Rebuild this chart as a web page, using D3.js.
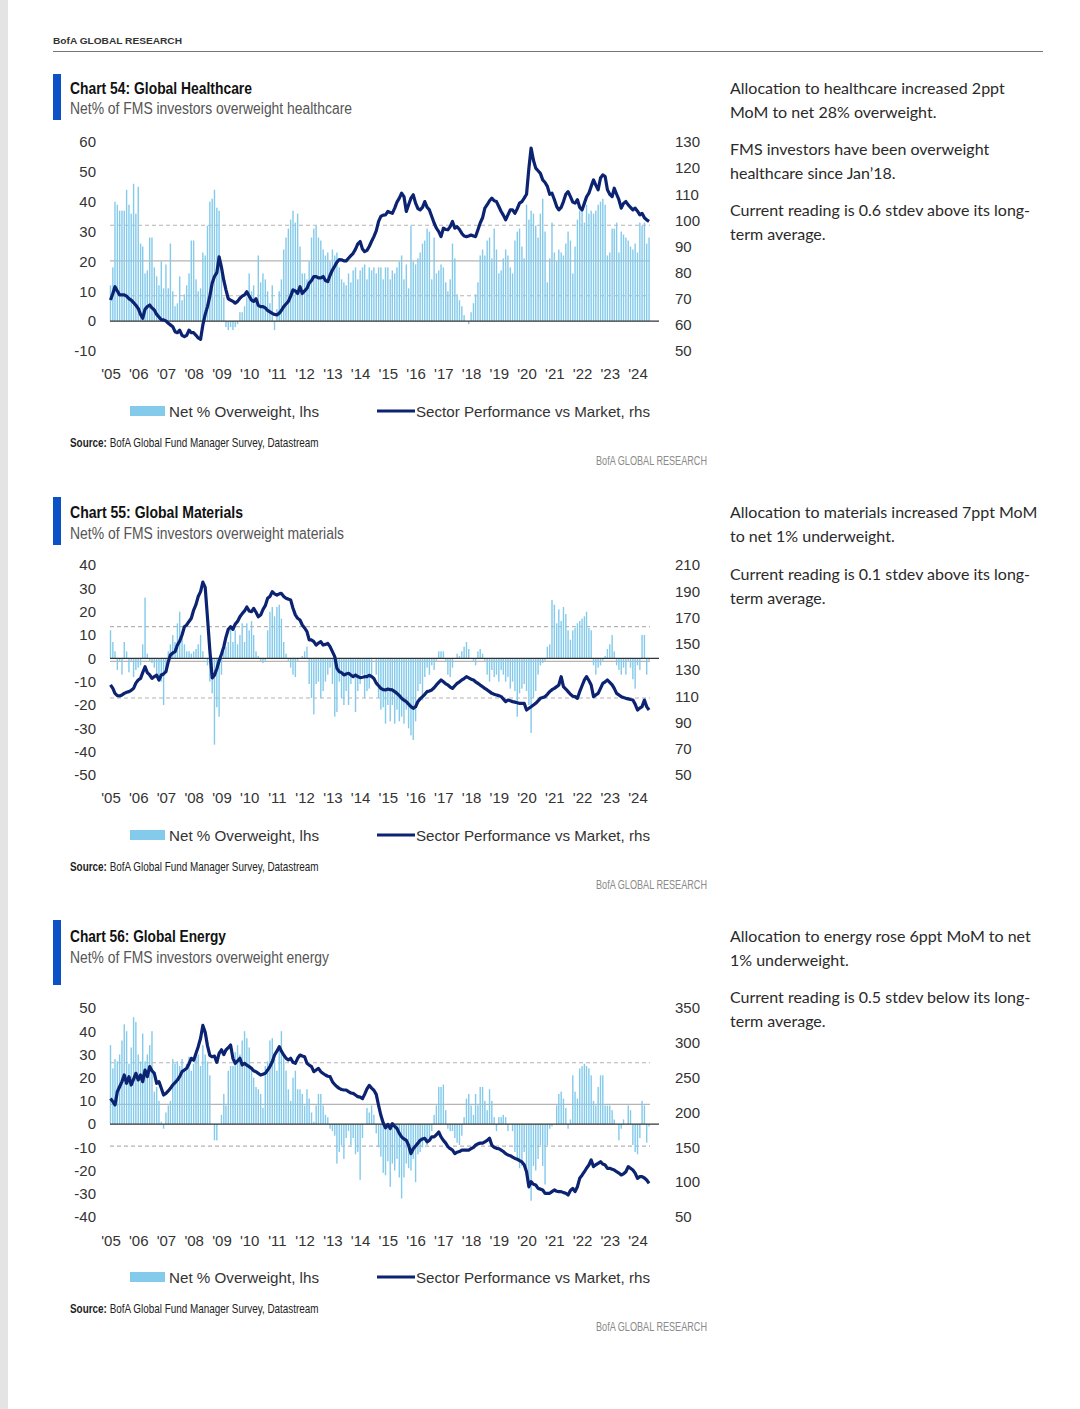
<!DOCTYPE html>
<html>
<head>
<meta charset="utf-8">
<script src="https://cdn.jsdelivr.net/npm/d3@7"></script>
<style>
  body { margin: 0; background: #fff; }
</style>
</head>
<body>
<div id="page"></div>
<script>
// ---- data (monthly, Jan 2005 - Jun 2024) ----
var years = ["'05","'06","'07","'08","'09","'10","'11","'12","'13","'14","'15","'16","'17","'18","'19","'20","'21","'22","'23","'24"];

var hcBars = [
  12, 18, 40, 39, 37, 37, 37, 44, 39, 36, 46, 36,
  45, 26, 25, 16, 17, 28, 28, 18, 15, 12, 20, 11,
  19, 11, 26, 10, 5, 6, 15, 7, 9, 12, 16, 27,
  27, 14, 10, 11, 23, 22, 32, 40, 41, 44, 38, 37,
  20, 8, -2, -3, -2, -3, -2, -1, 3, 3, 5, 8,
  16, 10, 12, 7, 22, 13, 16, 14, 10, 6, 12, -3,
  4, 10, 14, 24, 28, 31, 34, 37, 33, 36, 25, 16,
  16, 14, 20, 28, 31, 32, 28, 27, 24, 22, 23, 20,
  24, 22, 23, 18, 14, 13, 12, 16, 13, 17, 18, 14,
  17, 18, 19, 14, 18, 17, 18, 16, 18, 18, 14, 18,
  18, 14, 17, 16, 18, 20, 22, 14, 19, 11, 32, 20,
  19, 21, 23, 26, 27, 31, 30, 14, 28, 16, 17, 19,
  18, 13, 10, 14, 26, 21, 9, 7, 5, 2, 0, -1,
  3, 6, 9, 13, 22, 24, 22, 27, 28, 21, 31, 24,
  16, 17, 21, 24, 22, 18, 16, 27, 30, 31, 25, 21,
  39, 34, 37, 36, 32, 28, 36, 41, 30, 13, 21, 33,
  23, 20, 24, 23, 22, 26, 30, 27, 16, 25, 34, 37,
  37, 33, 39, 36, 37, 36, 37, 39, 40, 41, 39, 22,
  23, 31, 31, 33, 23, 30, 29, 28, 27, 25, 24, 26,
  23, 33, 32, 33, 26, 28
];
var hcLine = [
  69.5, 72, 74.6, 73, 71.5, 71.5, 71.5, 71, 70, 69.5, 68.5, 67.5,
  66.3, 64, 62.5, 66, 67, 67.6, 66.5, 65.7, 64, 63, 62, 61.9,
  61.5, 60.6, 60, 59.3, 57.4, 57, 58, 56, 55.5, 56, 58, 57,
  57, 56, 55, 54.5, 60, 64, 67, 71, 76, 78.5, 80, 86,
  82, 77, 73.4, 70, 69.5, 69, 68.3, 69, 70.2, 71, 71.5, 72.7,
  71, 69.5, 69, 70, 67.5, 67, 67, 66.5, 65.5, 65, 64.4, 64,
  63.8, 64.5, 65.5, 67, 68, 69, 71, 73.4, 73, 72, 74.6, 72,
  73, 74, 76, 77, 78.5, 78.5, 78, 78, 78.5, 77, 76.6, 79,
  81, 82.5, 84, 85, 84.9, 84.5, 84.5, 85.5, 86.5, 87.4, 89, 91,
  91.9, 89, 88, 88.5, 90, 92, 93.8, 96, 99.6, 101.5, 102, 102.1,
  103.4, 103, 102.7, 104.7, 107, 108.5, 110.4, 109.1, 103.4, 106, 108.5, 109.8,
  106.6, 104.5, 104, 105, 107.2, 105, 104, 101.5, 99, 97, 95.7, 93.8,
  97, 96.5, 96.4, 97.6, 99.6, 97, 97.6, 96.5, 95, 94, 93.8, 94,
  94.4, 94, 93.8, 96.4, 99, 101, 104.7, 106, 107.5, 108.5, 107.5, 107.2,
  105.3, 103.4, 102, 100.2, 102.1, 104, 104, 102.7, 104.5, 106.6, 107.2, 108.5,
  110, 120, 127.7, 123, 120, 119, 118, 115.5, 114.5, 113, 110, 110.4,
  108, 105.3, 104, 105, 107.2, 110, 111, 109.1, 107, 106.6, 107.9, 105,
  104, 106.6, 109, 110.4, 113, 115.5, 113.5, 111.7, 116.2, 117.4, 116.8, 111.7,
  110, 109.1, 112.3, 110, 107.9, 104.7, 106.5, 107.2, 105.9, 105, 104, 104.7,
  103.5, 102.1, 102.7, 101, 100.2, 99.6
];

var matBars = [
  12, 7, 3, -5, -1, -7, 7, 3, -6, -1, -8, -5,
  -4, -3, 6, 26, 2, -1, -2, -4, -7, -8, -10, -20,
  -4, 3, 6, 10, 7, 15, 20, 10, 6, 3, 3, 2,
  3, 4, 6, 10, 3, 0, -3, -10, -15, -37, -21, -25,
  -7, 3, 5, 7, 14, 7, 12, 6, 10, 15, 7, 15,
  12, 16, 10, 3, 1, -1, -2, -1, 12, 20, 22, 18,
  22, 23, 17, 7, 2, -1, -4, -7, -8, -1, 0, 1,
  3, 5, -11, -17, -24, -11, -10, -17, -14, -10, -7, -4,
  -11, -25, -23, -10, -17, -20, -14, -20, -11, -7, -23, -14,
  -11, -7, -17, -14, -13, -8, 0, -7, -17, -22, -21, -28,
  -20, -27, -20, -28, -22, -27, -25, -28, -22, -30, -33, -35,
  -27, -14, -11, -18, -8, -4, -7, -3, -5, -1, 3, 3,
  3, -1, -7, -8, -4, 0, 2, 1, 3, 5, 7, 4,
  0, -1, -3, 3, 4, 2, -1, -7, -10, -5, -8, -7,
  -10, -5, -7, -10, -8, -13, -10, -14, -25, -15, -13, -11,
  -14, -20, -32, -17, -14, -7, -3, -2, -1, 5, 6, 25,
  23, 15, 21, 16, 22, 19, 12, 8, 12, 13, 15, 16,
  17, 18, 20, 13, 12, -3, -7, -4, -3, -1, 1, 4,
  6, 10, 3, -3, -5, -7, -4, -7, -1, -4, -9, -13,
  -3, -5, 10, 10, -7, -1
];
var matLine = [
  118.6, 116, 112.2, 110.5, 110.2, 111, 112.2, 113, 113.5, 114.5, 116, 120,
  122.4, 123.6, 128, 132.5, 128, 126.2, 123.6, 125, 126, 122.4, 126.2, 127,
  128.7, 136.3, 141.4, 143, 144, 149, 152, 156.7, 163, 164.3, 167, 169.4,
  175.7, 180, 186, 189.7, 197, 193, 170, 145, 124, 126, 131, 137,
  142, 147.8, 155, 161, 163, 161, 165, 167, 170.6, 173, 175, 178,
  175, 174.4, 177, 174, 170.6, 171.9, 176, 179, 184.6, 186, 189.7, 188,
  187.1, 188, 188.4, 186, 184.6, 184, 183.3, 177, 172, 169.4, 168.1, 164.3,
  162, 159.2, 153, 152.9, 151.6, 149, 150.5, 151.6, 149, 149.5, 150.3, 147.8,
  144, 140.2, 131.3, 128.7, 128, 126.2, 127, 127.5, 126.2, 125, 126.2, 125,
  124.2, 124.5, 124.9, 124.9, 126, 125, 123.6, 120, 118, 116, 115, 114.8,
  115.5, 115, 114.8, 113.5, 112.2, 110.5, 108.4, 107, 105.9, 104, 102.1, 100.8,
  102, 106, 108, 109.7, 111.5, 113.5, 114, 114.8, 116.5, 118.6, 120.5, 122.4,
  121, 119.5, 118.6, 117, 116, 118, 119.8, 121, 122.4, 123.5, 124.9, 124,
  123, 122.4, 121, 119.8, 118.5, 117.3, 116, 114.8, 113.5, 112.2, 111.5, 111,
  110.5, 109.7, 108, 105.9, 107.1, 106.5, 105.9, 105.5, 105, 104.6, 104.6, 104.6,
  99.5, 100.8, 102, 103.3, 104.6, 106.5, 108.4, 109, 109.7, 111.5, 113.5, 115,
  116, 117.3, 118.6, 124.9, 117.3, 115.5, 113.5, 111.5, 110, 109.7, 108.4, 113.5,
  118, 122.4, 124.9, 122, 118.6, 109.7, 111, 112.2, 116, 119.8, 121, 122.4,
  120.5, 118.6, 116, 112.2, 111, 109.7, 109, 108.4, 108, 107.5, 107.1, 104,
  99.5, 101, 102.1, 107.1, 102.1, 99.5
];

var enBars = [
  34, 24, 28, 27, 30, 36, 43, 40, 26, 33, 46, 44,
  30, 27, 39, 27, 30, 34, 40, 14, 16, 10, 1, -2,
  5, 8, 10, 28, 26, 27, 25, 28, 23, 26, 29, 23,
  26, 30, 30, 25, 34, 30, 27, 21, 0, -7, -7, 0,
  4, 13, 8, 23, 25, 25, 31, 34, 30, 36, 40, 37,
  33, 24, 20, 16, 15, 13, 7, 25, 27, 36, 37, 28,
  23, 33, 40, 30, 23, 15, 10, 20, 23, 15, 15, 13,
  8, 15, 11, 5, 1, 8, 13, 13, 8, 4, 3, -2,
  -3, -5, -17, -12, -9, -15, -6, -3, -9, -6, -13, -12,
  -24, -6, 0, 7, 5, 8, 4, -4, -10, -14, -21, -22,
  -16, -27, -17, -20, -15, -23, -32, -23, -17, -19, -20, -15,
  -25, -13, -12, -10, -6, -9, -6, -3, 4, 8, 16, 16,
  17, 6, -2, -3, -3, -6, -8, -9, -5, 3, 11, 13,
  8, 4, 13, 8, 16, 16, 10, 6, 15, 10, 3, -3,
  3, 3, 4, 3, -3, 0, -3, -12, -16, -19, -18, -12,
  -22, -28, -33, -18, -20, -15, -9, -18, -26, -9, -2, -1,
  0, 8, 13, 14, 11, 7, -2, 2, 21, 14, 11, 24,
  25, 26, 25, 24, 21, 10, 8, 16, 21, 21, 8, 8,
  8, 6, 2, 0, -7, -2, 2, 0, 8, 6, -9, -12,
  -13, -6, 10, 8, -8, -1
];
var enLine = [
  220, 215.6, 210.8, 229.9, 237, 244.3, 253.8, 241.9, 251.4, 239.5, 248, 256.2,
  246.7, 253.8, 244.3, 261, 251.4, 265.8, 260, 256.2, 241.9, 244.3, 234.7, 225.1,
  227.5, 231, 234.7, 239.5, 243, 246.7, 251.4, 258.6, 261, 263.4, 270, 277.8,
  275, 285, 294.5, 306.5, 325, 315, 296, 282, 280, 281, 272, 285,
  290, 283, 289.7, 293, 296.9, 277.8, 270.6, 274, 277.8, 268.2, 270.6, 268,
  265.8, 263.4, 260, 258.6, 256.2, 253.8, 255, 256.2, 261, 266, 272.9, 282.5,
  288, 294.5, 288, 282.5, 278, 275.4, 277.8, 272, 270.6, 277.8, 282.5, 281,
  280.1, 270.6, 268, 265.8, 258.6, 261, 263.4, 258.6, 256, 253.8, 252, 251.4,
  244.3, 240, 237.1, 234.7, 233, 232.3, 232.3, 229.9, 228, 227.5, 225.1, 222.7,
  222, 220, 226, 234, 239, 235, 232, 226, 210, 196, 185, 178,
  183, 177, 184, 180, 177, 170, 165, 162, 160, 153, 141, 148,
  152, 156, 160, 162, 163, 158, 160, 165, 165, 168, 172, 165,
  160, 156, 151, 148, 146, 141, 143, 144, 146, 146, 146, 146,
  148, 150, 153, 155, 156, 156, 158, 160, 163, 153, 150, 148.6,
  148, 146, 144, 141, 139, 138, 136, 134, 133, 131, 129, 125,
  115, 93.5, 100.7, 97, 95.9, 91.1, 90, 88.8, 84, 84, 84, 86.4,
  88.8, 87, 86.4, 86.4, 85, 84, 81.6, 88, 91.1, 86.4, 93.5, 105.5,
  110, 115, 120, 124.6, 131.8, 122.3, 125, 127, 129.4, 126, 124.6, 119.9,
  119.9, 118.5, 117.5, 115, 113, 110.3, 112, 115, 122.3, 120, 117.5, 113,
  105.5, 107.9, 107.9, 106, 103.1, 98.3
];

// axis ticks and reference lines (lower band, average, upper band)
var hcLeftTicks = [-10, 0, 10, 20, 30, 40, 50, 60];
var hcRightTicks = [50, 60, 70, 80, 90, 100, 110, 120, 130];
var hcRefs = [8.5, 20.2, 32.1];
var matLeftTicks = [-50, -40, -30, -20, -10, 0, 10, 20, 30, 40];
var matRightTicks = [50, 70, 90, 110, 130, 150, 170, 190, 210];
var matRefs = [-17, -1.3, 13.6];
var enLeftTicks = [-40, -30, -20, -10, 0, 10, 20, 30, 40, 50];
var enRightTicks = [50, 100, 150, 200, 250, 300, 350];
var enRefs = [-9.5, 8.5, 26.4];

var hcNotes = [["Allocation to healthcare increased 2ppt", "MoM to net 28% overweight."],
               ["FMS investors have been overweight", "healthcare since Jan\u201918."],
               ["Current reading is 0.6 stdev above its long-", "term average."]];
var matNotes = [["Allocation to materials increased 7ppt MoM", "to net 1% underweight."],
                ["Current reading is 0.1 stdev above its long-", "term average."]];
var enNotes = [["Allocation to energy rose 6ppt MoM to net", "1% underweight."],
               ["Current reading is 0.5 stdev below its long-", "term average."]];

// ---- layout ----
var W = 1080, H = 1409;
var sansFont = "'Liberation Sans', Arial, sans-serif";
var noteFont = "Lato, 'Open Sans', sans-serif";

var charts = [
  {title: "Chart 54: Global Healthcare", titleW: 182, sub: "Net% of FMS investors overweight healthcare", subW: 282,
   bars: hcBars, line: hcLine, lt: hcLeftTicks, rt: hcRightTicks, refs: hcRefs, notes: hcNotes,
   top: 142, bottom: 351, titleY: 94, subY: 114, mark: [74, 120], xLabY: 379, legY: 411, srcY: 447, wmY: 465,
   noteY: [94, 155, 216]},
  {title: "Chart 55: Global Materials", titleW: 173, sub: "Net% of FMS investors overweight materials", subW: 274,
   bars: matBars, line: matLine, lt: matLeftTicks, rt: matRightTicks, refs: matRefs, notes: matNotes,
   top: 565, bottom: 775, titleY: 518, subY: 539, mark: [497, 545], xLabY: 803, legY: 835, srcY: 871, wmY: 889,
   noteY: [518, 580]},
  {title: "Chart 56: Global Energy", titleW: 156, sub: "Net% of FMS investors overweight energy", subW: 259,
   bars: enBars, line: enLine, lt: enLeftTicks, rt: enRightTicks, refs: enRefs, notes: enNotes,
   top: 1008, bottom: 1217, titleY: 942, subY: 963, mark: [920, 985], xLabY: 1246, legY: 1277, srcY: 1313, wmY: 1331,
   noteY: [942, 1003]}
];

var svg = d3.select("#page").append("svg")
  .attr("width", W)
  .attr("height", H)
  .style("font-family", sansFont);

svg.append("rect").attr("width", W).attr("height", H).attr("fill", "#fff");
svg.append("rect").attr("x", 0).attr("y", 0).attr("width", 8).attr("height", H).attr("fill", "#e4e4e4");

// page header
svg.append("text").attr("x", 53).attr("y", 44)
  .attr("font-size", 9.5).attr("font-weight", "bold").attr("fill", "#333")
  .attr("textLength", 129).attr("lengthAdjust", "spacingAndGlyphs")
  .text("BofA GLOBAL RESEARCH");
svg.append("line").attr("x1", 53).attr("x2", 1043).attr("y1", 51.5).attr("y2", 51.5)
  .attr("stroke", "#777").attr("stroke-width", 1);

var x = d3.scaleTime()
  .domain([new Date(2005, 0, 1), new Date(2024, 0, 1)])
  .range([110.5, 637.5]);
var yearDates = years.map(function(d, i) { return new Date(2005 + i, 0, 1); });

var barColor = "#84caeb", lineColor = "#0c2372";

function fit(t, w) {
  return t.attr("textLength", w).attr("lengthAdjust", "spacingAndGlyphs");
}

charts.forEach(function(c) {
  var g = svg.append("g");
  var yL = d3.scaleLinear().domain(d3.extent(c.lt)).range([c.bottom, c.top]);
  var yR = d3.scaleLinear().domain(d3.extent(c.rt)).range([c.bottom, c.top]);
  var dates = c.bars.map(function(d, i) { return new Date(2005, i, 1); });

  // blue marker + titles
  g.append("rect").attr("x", 53).attr("y", c.mark[0]).attr("width", 8)
    .attr("height", c.mark[1] - c.mark[0]).attr("fill", "#0c52c6");
  fit(g.append("text").attr("x", 70).attr("y", c.titleY)
    .attr("font-size", 17).attr("font-weight", "bold").attr("fill", "#111")
    .text(c.title), c.titleW);
  fit(g.append("text").attr("x", 70).attr("y", c.subY)
    .attr("font-size", 16).attr("fill", "#555")
    .text(c.sub), c.subW);

  // notes on the right
  c.notes.forEach(function(p, i) {
    p.forEach(function(line, j) {
      g.append("text").attr("x", 730).attr("y", c.noteY[i] + j * 23.5)
        .style("font-family", noteFont)
        .attr("font-size", 16).attr("fill", "#2a2a2a")
        .text(line);
    });
  });

  // reference lines: band edges dashed, average solid
  c.refs.forEach(function(v, i) {
    g.append("line").attr("x1", 110).attr("x2", 650)
      .attr("y1", yL(v)).attr("y2", yL(v))
      .attr("stroke", "#b4b4b4").attr("stroke-width", 1.1)
      .attr("stroke-dasharray", i === 1 ? null : "4,3");
  });

  // bars
  g.selectAll(".bar").data(c.bars).enter().append("rect")
    .attr("x", function(d, i) { return x(dates[i]) - 0.7; })
    .attr("width", 1.4)
    .attr("y", function(d) { return Math.min(yL(d), yL(0)); })
    .attr("height", function(d) { return Math.abs(yL(d) - yL(0)); })
    .attr("fill", barColor);

  // zero line
  g.append("line").attr("x1", 110).attr("x2", 659)
    .attr("y1", yL(0)).attr("y2", yL(0))
    .attr("stroke", "#333").attr("stroke-width", 1.4);

  // performance line
  g.append("path").datum(c.line)
    .attr("fill", "none").attr("stroke", lineColor).attr("stroke-width", 3.2)
    .attr("stroke-linejoin", "round")
    .attr("d", d3.line()
      .x(function(d, i) { return x(dates[i]); })
      .y(function(d) { return yR(d); }));

  // axes
  var plain = function(d) { return String(d); };
  var la = g.append("g").attr("transform", "translate(96,0)")
    .call(d3.axisLeft(yL).tickValues(c.lt).tickSize(0).tickPadding(0).tickFormat(plain));
  var ra = g.append("g").attr("transform", "translate(675,0)")
    .call(d3.axisRight(yR).tickValues(c.rt).tickSize(0).tickPadding(0).tickFormat(plain));
  var xa = g.append("g").attr("transform", "translate(0," + c.xLabY + ")")
    .call(d3.axisBottom(x).tickValues(yearDates).tickSize(0).tickPadding(0)
      .tickFormat(function(d, i) { return years[i]; }));
  xa.selectAll("text").attr("dy", null).attr("y", 0);
  [la, ra, xa].forEach(function(a) {
    a.attr("font-family", null);
    a.select(".domain").remove();
    a.selectAll("text").attr("font-size", 15).attr("fill", "#333");
  });

  // legend
  g.append("rect").attr("x", 130).attr("y", c.legY - 5).attr("width", 35).attr("height", 10)
    .attr("fill", barColor);
  fit(g.append("text").attr("x", 169).attr("y", c.legY + 5.5)
    .attr("font-size", 15).attr("fill", "#333").text("Net % Overweight, lhs"), 150);
  g.append("line").attr("x1", 377).attr("x2", 415).attr("y1", c.legY).attr("y2", c.legY)
    .attr("stroke", lineColor).attr("stroke-width", 3);
  fit(g.append("text").attr("x", 416).attr("y", c.legY + 5.5)
    .attr("font-size", 15).attr("fill", "#333").text("Sector Performance vs Market, rhs"), 234);

  // source line: one text, squeezed horizontally to the narrow look of the original
  var src = g.append("text").attr("font-size", 12.5).attr("fill", "#222");
  src.append("tspan").attr("font-weight", "bold").text("Source:");
  src.append("tspan").text(" BofA Global Fund Manager Survey, Datastream");
  var natural = src.node().getComputedTextLength();
  src.attr("transform", "translate(70," + c.srcY + ") scale(" + (249 / natural) + ",1)");

  fit(g.append("text").attr("x", 596).attr("y", c.wmY)
    .attr("font-size", 12).attr("fill", "#8a8a8a").text("BofA GLOBAL RESEARCH"), 111);
});
</script>
</body>
</html>
